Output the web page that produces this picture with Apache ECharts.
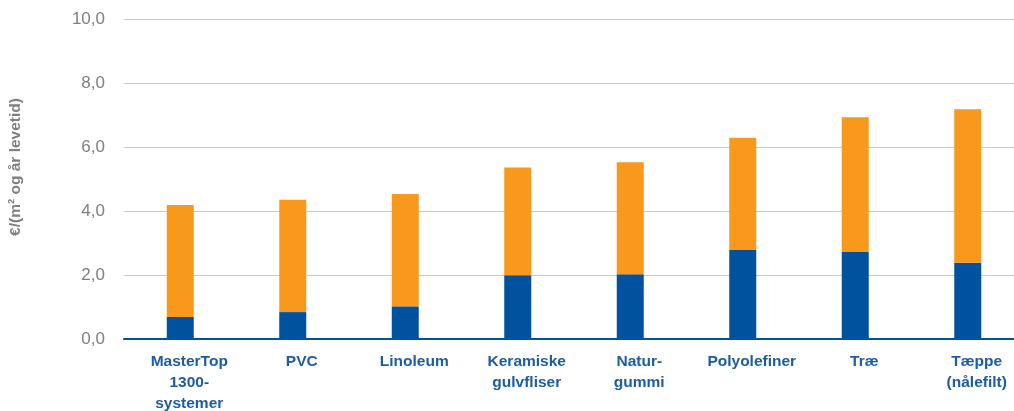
<!DOCTYPE html>
<html>
<head>
<meta charset="utf-8">
<script src="https://cdn.jsdelivr.net/npm/echarts@6/dist/echarts.min.js"></script>
<style>html,body{margin:0;padding:0;background:#fff;}#c{width:1014px;height:411px;}</style>
</head>
<body>
<div id="c"></div>
<script>
const categories = ['MasterTop\n1300-\nsystemer', 'PVC', 'Linoleum', 'Keramiske\ngulvfliser', 'Natur-\ngummi', 'Polyolefiner', 'Træ', 'Tæppe\n(nålefilt)'];
const blueValues = [0.69, 0.84, 1.02, 1.99, 2.02, 2.78, 2.72, 2.38];
const orangeValues = [3.50, 3.51, 3.51, 3.37, 3.50, 3.51, 4.21, 4.80];
const yTicks = { min: 0, max: 10, interval: 2 };

const chart = echarts.init(document.getElementById('c'));
chart.setOption({
  animation: false,
  textStyle: { fontFamily: 'Liberation Sans, Arial, sans-serif' },
  grid: { left: 124, width: 900, top: 19, bottom: 72, outerBoundsMode: 'none', containLabel: false },
  xAxis: {
    type: 'category',
    data: categories,
    axisLine: { lineStyle: { color: '#00519E', width: 2 } },
    axisTick: { show: false },
    axisLabel: {
      color: '#1A5CA8', fontWeight: 'bold', fontSize: 15.5, lineHeight: 21, margin: 12,
      padding: [0, 0, 0, 18],
      interval: 0, fontFamily: 'Liberation Sans, Arial, sans-serif'
    }
  },
  yAxis: {
    type: 'value',
    min: yTicks.min, max: yTicks.max, interval: yTicks.interval,
    name: '€/(m² og år levetid)',
    nameLocation: 'middle',
    nameGap: 100,
    nameTextStyle: { color: '#7F7F7F', fontWeight: 'bold', fontSize: 15.5, padding: [0, 0, 0, 24], fontFamily: 'Liberation Sans, Arial, sans-serif' },
    axisLine: { show: false },
    axisTick: { show: false },
    splitLine: { lineStyle: { color: '#C8C8C8', width: 1 } },
    axisLabel: {
      color: '#7F7F7F', fontSize: 17, margin: 19,
      formatter: v => v.toFixed(1).replace('.', ','),
      fontFamily: 'Liberation Sans, Arial, sans-serif'
    }
  },
  series: [
    { type: 'bar', stack: 'a', data: blueValues, barWidth: 27, itemStyle: { color: '#00519E' } },
    { type: 'bar', stack: 'a', data: orangeValues, barWidth: 27, itemStyle: { color: '#F8981D' } }
  ]
});
</script>
</body>
</html>
